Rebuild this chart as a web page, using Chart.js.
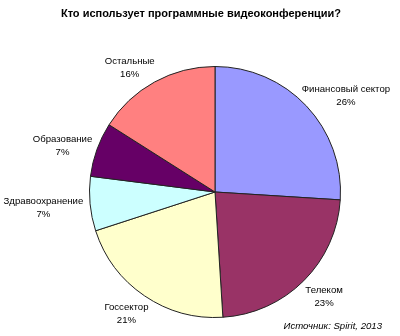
<!DOCTYPE html>
<html><head><meta charset="utf-8">
<script src="https://cdn.jsdelivr.net/npm/chart.js@4/dist/chart.umd.min.js"></script>
<style>html,body{margin:0;padding:0;background:#fff}#wrap{width:400px;height:336px}</style>
</head><body><div id="wrap"><canvas id="c" width="400" height="336"></canvas></div>
<script>
const titleText = 'Кто использует программные видеоконференции?';
const sourceText = 'Источник: Spirit, 2013';
const categories = ['Финансовый сектор','Телеком','Госсектор','Здравоохранение','Образование','Остальные'];
const values = [26, 23, 21, 7, 7, 16];
const colors = ['#9999FF','#993366','#FFFFCC','#CCFFFF','#660066','#FF8080'];

const labelPlugin = {
  id: 'labels',
  afterDraw(chart) {
    const ctx = chart.ctx;
    ctx.save();
    ctx.fillStyle = '#000';
    ctx.textAlign = 'center';
    ctx.textBaseline = 'middle';
    ctx.font = 'bold 11px "Liberation Sans", Arial, sans-serif';
    ctx.fillText(titleText, 201, 14);
    const meta = chart.getDatasetMeta(0);
    ctx.font = '9.6px "Liberation Sans", Arial, sans-serif';
    meta.data.forEach((arc, i) => {
      const mid = (arc.startAngle + arc.endAngle) / 2;
      const dx = Math.cos(mid), dy = Math.sin(mid);
      const r = arc.outerRadius + 10;
      const ax = arc.x + r * dx, ay = arc.y + r * dy;
      const l1 = categories[i], l2 = values[i] + '%';
      const hw = Math.max(ctx.measureText(l1).width, ctx.measureText(l2).width) / 2;
      const extra = dx < 0 && dy < -0.7 ? 8 : 0;
      const cx = ax + hw * dx - extra + (dx < -0.9 ? 3 : 0);
      const cy = ay + 9 * dy + 2;
      ctx.fillText(l1, cx, cy - 6);
      ctx.fillText(l2, cx, cy + 7);
    });
    ctx.font = 'italic 9.6px "Liberation Sans", Arial, sans-serif';
    ctx.textAlign = 'right';
    ctx.fillText(sourceText, 382, 326);
    ctx.restore();
  }
};

new Chart(document.getElementById('c'), {
  type: 'pie',
  data: {
    labels: categories,
    datasets: [{
      data: values,
      backgroundColor: colors,
      borderColor: '#222',
      borderWidth: 1
    }]
  },
  options: {
    responsive: false,
    animation: false,
    layout: { padding: { left: 89, right: 59, top: 66, bottom: 18 } },
    plugins: { legend: { display: false }, tooltip: { enabled: false }, title: { display: false } }
  },
  plugins: [labelPlugin]
});
</script></body></html>
